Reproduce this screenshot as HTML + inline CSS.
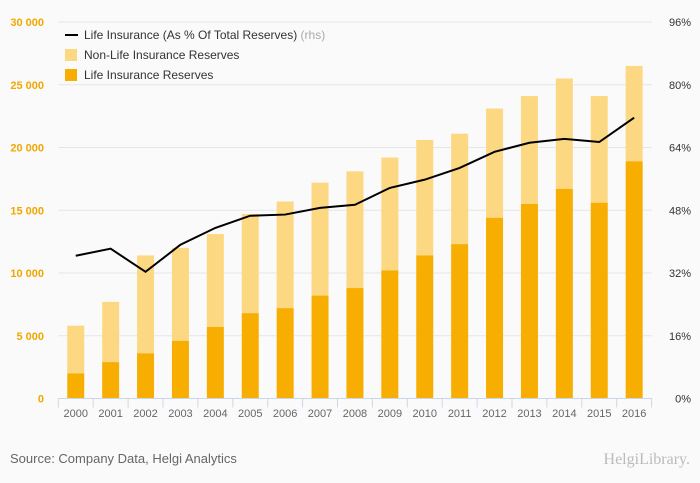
<!DOCTYPE html>
<html><head><meta charset="utf-8"><style>
body{margin:0;background:#fafafa;font-family:"Liberation Sans",sans-serif}
svg{display:block}
</style></head><body>
<svg id="c" width="700" height="483" xmlns="http://www.w3.org/2000/svg">
<rect width="700" height="483" fill="#fafafa"/>
<g id="grid"></g><g id="bars"></g><g id="axes"></g><g id="line"></g>
<g font-size="12" fill="#333">
<line x1="65" y1="35" x2="78" y2="35" stroke="#000" stroke-width="2"/>
<text x="84" y="39">Life Insurance (As % Of Total Reserves) <tspan fill="#aaa">(rhs)</tspan></text>
<rect x="65" y="49" width="12" height="12" fill="#fdd882"/>
<text x="84" y="59">Non-Life Insurance Reserves</text>
<rect x="65" y="69" width="12" height="12" fill="#f8ae00"/>
<text x="84" y="79">Life Insurance Reserves</text>
</g>
<text x="10" y="463" font-size="13" fill="#666">Source: Company Data, Helgi Analytics</text>
<text x="690" y="464" text-anchor="end" font-size="16" fill="#bbb" font-family="Liberation Serif,serif">HelgiLibrary.</text>
</svg>
<script>
const years=["2000","2001","2002","2003","2004","2005","2006","2007","2008","2009","2010","2011","2012","2013","2014","2015","2016"];
const lifeReserves=[2000,2900,3600,4600,5700,6800,7200,8200,8800,10200,11400,12300,14400,15500,16700,15600,18900];
const totalReserves=[5800,7700,11400,12000,13100,14700,15700,17200,18100,19200,20600,21100,23100,24100,25500,24100,26500];
const lifePct=[36.4,38.2,32.3,39.2,43.5,46.6,46.9,48.6,49.4,53.7,55.8,58.8,62.9,65.2,66.2,65.4,71.6];
const leftTicks=[0,5000,10000,15000,20000,25000,30000];
const rightTicks=[0,16,32,48,64,80,96];
const NS="http://www.w3.org/2000/svg";
const X0=58.3,SLOT=34.9,YB=398.5,YT=22;
const yL=v=>YB-(v/30000)*(YB-YT);
const yR=v=>YB-(v/96)*(YB-YT);
const xC=i=>X0+SLOT*(i+0.5);
function mk(p,t,a){const e=document.createElementNS(NS,t);for(const k in a)e.setAttribute(k,a[k]);document.getElementById(p).appendChild(e);return e;}
leftTicks.forEach((v,i)=>{
 if(v>0){const g=mk('grid','line',{x1:X0,x2:652,y1:yL(v),y2:yL(v),stroke:'#e6e6e6'});
 
 }
 const t=mk('axes','text',{x:44,y:yL(v)+4,'text-anchor':'end','font-size':'11',fill:'#f0a800','font-weight':'bold'});
 t.textContent=v.toLocaleString('en-US').replace(',',' ');
 
 
 const r=mk('axes','text',{x:691,y:yR(rightTicks[i])+4,'text-anchor':'end','font-size':'11',fill:'#333'});
 r.textContent=rightTicks[i]+'%';
 
 
});
years.forEach((y,i)=>{
 const bw=17,x=xC(i)-bw/2;
 const b1=mk('bars','rect',{x:x,y:yL(totalReserves[i]),width:bw,height:yL(lifeReserves[i])-yL(totalReserves[i]),fill:'#fdd882'});
 
 
 const b2=mk('bars','rect',{x:x,y:yL(lifeReserves[i]),width:bw,height:YB-yL(lifeReserves[i]),fill:'#f8ae00'});
 
 
 const t=mk('axes','text',{x:xC(i),y:417,'text-anchor':'middle','font-size':'11',fill:'#666'});
 t.textContent=y;
 
 
});
for(let i=0;i<=years.length;i++){const tk=mk('axes','line',{x1:X0+SLOT*i,x2:X0+SLOT*i,y1:YB,y2:YB+9,stroke:'#ccd6eb'});
 
 }
const ax=mk('axes','line',{x1:X0,x2:652,y1:YB,y2:YB,stroke:'#ccd6eb'});


const pl=mk('line','polyline',{points:lifePct.map((v,i)=>xC(i)+','+yR(v)).join(' '),fill:'none',stroke:'#000','stroke-width':'2'});


</script>
</body></html>
